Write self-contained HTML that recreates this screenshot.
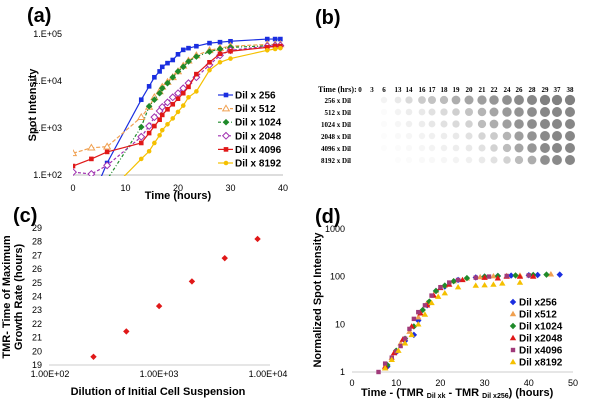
<!DOCTYPE html>
<html><head><meta charset="utf-8"><style>
body{margin:0;background:#fff}
svg{font-family:"Liberation Sans",sans-serif;display:block}
</style></head><body>
<svg id="fig" width="600" height="400" viewBox="0 0 600 400" xmlns="http://www.w3.org/2000/svg">
<text x="27" y="22" font-size="20" font-weight="bold">(a)</text>
<text x="315" y="24" font-size="20" font-weight="bold">(b)</text>
<text x="13" y="222" font-size="20" font-weight="bold">(c)</text>
<text x="315" y="223" font-size="20" font-weight="bold">(d)</text>
<defs><clipPath id="clipA"><rect x="73" y="30" width="215" height="146"/></clipPath></defs>
<g id="pa"></g>
<g id="pb"></g>
<g id="pc"></g>
<g id="pd"></g>
</svg>
<script>
// ---------- Panel (a) data ----------
const aTimes = [0,3.5,6.5,13,14.5,15.5,16.5,17,18,19,20,21,22,23.5,26,28,30,37,38.5,39.5];
const aS256  = [20,30,180,4000,7700,12000,16000,20000,24000,28000,37000,46000,50000,55000,64000,67000,70000,78000,78000,78000];
const aS512  = [290,380,400,1700,2800,4500,6000,7500,9500,12000,16000,21000,27000,35000,45000,50000,55000,60000,60000,60000];
const aS1024 = [40,60,80,1050,2900,4000,5500,7000,9000,12000,16000,20000,26000,33000,42000,48000,52000,56000,58000,58000];
const aS2048 = [115,105,160,650,1100,1700,2300,2800,3500,4500,5500,7000,9000,12000,22000,35000,45000,55000,56000,57000];
const aS4096 = [155,220,310,480,780,1100,1500,1900,2500,3200,4200,5500,7500,14000,25000,38000,43000,52000,55000,55000];
const aS8192 = [10,20,40,220,320,480,700,900,1200,1600,2200,3000,4500,6000,17000,25000,30000,45000,48000,50000];
const aNames = ["Dil x 256","Dil x 512","Dil x 1024","Dil x 2048","Dil x 4096","Dil x 8192"];
const aXTicks = [0,10,20,30,40];
const aYTicks = ["1.E+02","1.E+03","1.E+04","1.E+05"];
// ---------- Panel (b) data ----------
const bTimes = ["0","3","6","13","14","16","17","18","19","20","21","22","24","26","28","29","37","38"];
const bRows = ["256","512","1024","2048","4096","8192"];
const bI256  = [0,0,0.08,0.15,0.25,0.35,0.4,0.45,0.55,0.6,0.65,0.7,0.75,0.78,0.8,0.85,0.85,0.85];
const bI512  = [0,0,0.03,0.08,0.12,0.15,0.2,0.25,0.32,0.4,0.5,0.6,0.68,0.72,0.76,0.8,0.8,0.8];
const bI1024 = [0,0,0.03,0.06,0.1,0.12,0.16,0.2,0.25,0.3,0.45,0.55,0.65,0.72,0.76,0.8,0.8,0.8];
const bI2048 = [0,0,0.02,0.04,0.06,0.08,0.1,0.12,0.15,0.2,0.28,0.35,0.5,0.65,0.72,0.78,0.8,0.8];
const bI4096 = [0,0,0.02,0.03,0.04,0.06,0.08,0.1,0.12,0.15,0.2,0.3,0.45,0.6,0.7,0.78,0.8,0.8];
const bI8192 = [0,0,0,0.02,0.03,0.04,0.05,0.06,0.08,0.1,0.14,0.2,0.3,0.45,0.55,0.75,0.78,0.8];
// ---------- Panel (c) data ----------
const cDil = [256,512,1024,2048,4096,8192];
const cTMR = [19.6,21.45,23.3,25.1,26.8,28.2];
const cYTicks = [19,20,21,22,23,24,25,26,27,28,29];
const cXTicks = ["1.00E+02","1.00E+03","1.00E+04"];
// ---------- Panel (d) data ----------
const dX256 = [8,10,12,14,15,17,19,21,24,28,30,33,36,40,42,47];
const dY256 = [1.3,2.6,4.5,6,12,25,50,62,85,96,100,103,105,107,108,110];
const dX512 = [7.5,9,11,13,15,17,19,21,23,26,29,32,35,38,41,45];
const dY512 = [1.2,2,4,7,14,28,50,65,80,92,98,102,104,106,108,112];
const dX1024 = [8,10,12,14,16,17.5,19,21,23,26,30,33,37,41,44];
const dY1024 = [1.4,2.8,5,9,20,30,50,65,80,93,100,103,106,108,110];
const dX2048 = [7.5,9.5,11.5,13.5,15.5,17,18.5,20,22,25,30,33,35,38,41];
const dY2048 = [1.3,2.5,4.8,9,17,25,40,58,68,85,95,92,100,100,100];
const dX4096 = [6,7.5,9,10,11,12,13,14,15,16.5,18,20,22,24,28,31,35,40];
const dY4096 = [1,1.5,2,2.7,3.5,5,8,13,18,25,40,60,75,85,95,100,103,106];
const dX8192 = [7.5,9,10.5,12,13.5,15,16.5,18,19.5,21,24,28,30,32,34,38];
const dY8192 = [1.2,1.8,2.8,4,6,10,16,28,38,45,60,65,66,68,72,75];
const dYTicks = [1,10,100,1000];
const dXTicks = [0,10,20,30,40,50];

const NS="http://www.w3.org/2000/svg";
function mk(tag,attrs,parent,txt){const e=document.createElementNS(NS,tag);for(const k in attrs)e.setAttribute(k,attrs[k]);if(txt!==undefined)e.textContent=txt;parent.appendChild(e);return e;}
function marker(g,shape,x,y,col,s){
  let e;
  if(shape==="sq") e=mk("rect",{x:x-s,y:y-s,width:2*s,height:2*s,fill:col},g);
  else if(shape==="tri") e=mk("polygon",{points:`${x},${y-s-1} ${x-s-1},${y+s} ${x+s+1},${y+s}`,fill:col},g);
  else if(shape==="otri") e=mk("polygon",{points:`${x},${y-s-1} ${x-s-1},${y+s} ${x+s+1},${y+s}`,fill:"#fff",stroke:col,"stroke-width":1},g);
  else if(shape==="dia") e=mk("polygon",{points:`${x},${y-s-1} ${x+s+1},${y} ${x},${y+s+1} ${x-s-1},${y}`,fill:col},g);
  else if(shape==="odia") e=mk("polygon",{points:`${x},${y-s-1} ${x+s+1},${y} ${x},${y+s+1} ${x-s-1},${y}`,fill:"#fff",stroke:col,"stroke-width":1},g);
  else e=mk("circle",{cx:x,cy:y,r:s,fill:col},g);
  return e;
}

// ===== Panel (a) =====
(function(){
const g=document.getElementById("pa");
const X=t=>73+t*(210/40), Y=v=>175-(Math.log10(v)-2)*47;
const ax=mk("line",{x1:73,y1:175,x2:283,y2:175,stroke:"#bbb"},g);


aYTicks.forEach((l,i)=>{const t=mk("text",{x:62,y:175-i*47+3,"font-size":9,"text-anchor":"end"},g,l);

});
aXTicks.forEach(v=>{const t=mk("text",{x:X(v),y:191,"font-size":9,"text-anchor":"middle"},g,v);

});
const xt=mk("text",{x:178,y:199,"font-size":11,"font-weight":"bold","text-anchor":"middle"},g,"Time (hours)");


const yt=mk("text",{x:0,y:0,"font-size":11,"font-weight":"bold","text-anchor":"middle",transform:"translate(36,105) rotate(-90)"},g,"Spot Intensity");


const series=[aS256,aS512,aS1024,aS2048,aS4096,aS8192];
const cols=["#1a2ee0","#f0a050","#1f8a2a","#a030b0","#e01818","#f5c000"];
const dash=["","4,2","3,2,1,2","3,2","",""];
const shp=["sq","otri","dia","odia","sq","dot"];
const clip=mk("g",{"clip-path":"url(#clipA)"},g);
series.forEach((s,k)=>{
  const d=s.map((v,i)=>(i?"L":"M")+X(aTimes[i])+","+Y(v)).join("");
  const p=mk("path",{d:d,fill:"none",stroke:cols[k],"stroke-width":1.2,"stroke-dasharray":dash[k]},clip);
  
  
  s.forEach((v,i)=>{if(v<100)return;const m=marker(clip,shp[k],X(aTimes[i]),Y(v),cols[k],2.3);
  
  });
  const ly=95+k*13.6;
  const ll=mk("line",{x1:218,y1:ly,x2:233,y2:ly,stroke:cols[k],"stroke-width":1.2,"stroke-dasharray":dash[k]},g);
  
  
  const lm=marker(g,shp[k],226,ly,cols[k],2.3);
  
  
  const lt=mk("text",{x:235,y:ly+3.5,"font-size":10,"font-weight":"bold"},g,aNames[k]);
  
  
});
})();

// ===== Panel (b) =====
(function(){
const g=document.getElementById("pb");
const colX=[360,372,384,398,409,422,432,444,456,469,482,494,507,519,532,545,557,570];
const h=mk("text",{x:318,y:92,"font-size":8,"font-weight":"bold","font-family":"Liberation Serif, serif"},g,"Time (hrs):");


bTimes.forEach((t,i)=>{const e=mk("text",{x:colX[i],y:92,"font-size":7,"font-weight":"bold","text-anchor":"middle","font-family":"Liberation Serif, serif"},g,t);

});
const rows=[bI256,bI512,bI1024,bI2048,bI4096,bI8192];
rows.forEach((r,j)=>{
  const y=100+j*12;
  const l=mk("text",{x:351,y:y+3,"font-size":7,"font-weight":"bold","text-anchor":"end","font-family":"Liberation Serif, serif"},g,bRows[j]+" x Dil");
  
  
  r.forEach((v,i)=>{if(v<=0)return;const c=Math.round(255-v*150);
    const d=mk("circle",{cx:colX[i],cy:y,r:3+v*2.5,fill:`rgb(${c},${c},${c})`},g);
    
    });
});
})();

// ===== Panel (c) =====
(function(){
const g=document.getElementById("pc");
const X=d=>49+(Math.log10(d)-2)*109, Y=v=>365-(v-19)*13.7;
const a1=mk("line",{x1:49,y1:365,x2:270,y2:365,stroke:"#ccc"},g);


cYTicks.forEach(v=>{const t=mk("text",{x:42,y:Y(v)+3,"font-size":9,"text-anchor":"end"},g,v);

});
cXTicks.forEach((l,i)=>{const t=mk("text",{x:50+i*109,y:377,"font-size":9,"text-anchor":"middle"},g,l);

});
const xt=mk("text",{x:158,y:395,"font-size":11,"font-weight":"bold","text-anchor":"middle"},g,"Dilution of Initial Cell Suspension");


const y1=mk("text",{x:0,y:0,"font-size":11,"font-weight":"bold","text-anchor":"middle",transform:"translate(10,297) rotate(-90)"},g,"TMR- Time of Maximum");


const y2=mk("text",{x:0,y:0,"font-size":11,"font-weight":"bold","text-anchor":"middle",transform:"translate(22,297) rotate(-90)"},g,"Growth Rate (hours)");


cDil.forEach((d,i)=>{const m=marker(g,"dia",X(d),Y(cTMR[i]),"#e01818",2.2);

});
})();

// ===== Panel (d) =====
(function(){
const g=document.getElementById("pd");
const X=t=>352+t*4.42, Y=v=>372-Math.log10(v)*47.7;
const a1=mk("line",{x1:352,y1:372,x2:573,y2:372,stroke:"#ccc"},g);


dYTicks.forEach(v=>{const t=mk("text",{x:345,y:Y(v)+3,"font-size":9,"text-anchor":"end"},g,v);

});
dXTicks.forEach(v=>{const t=mk("text",{x:X(v),y:386,"font-size":9,"text-anchor":"middle"},g,v);

});
const xt=mk("text",{x:361,y:396,"font-size":11,"font-weight":"bold"},g);


xt.innerHTML='Time  - (TMR <tspan font-size="7" dy="2">Dil xk</tspan><tspan dy="-2"> - TMR </tspan><tspan font-size="7" dy="2">Dil x256</tspan><tspan dy="-2">)     (hours)</tspan>';
const yt=mk("text",{x:0,y:0,"font-size":11,"font-weight":"bold","text-anchor":"middle",transform:"translate(321,300) rotate(-90)"},g,"Normalized Spot Intensity");


const xs=[dX256,dX512,dX1024,dX2048,dX4096,dX8192], ys=[dY256,dY512,dY1024,dY2048,dY4096,dY8192];
const cols=["#1a2ee0","#f0a050","#1f8a2a","#e01818","#a03a7a","#f5c000"];
const shp=["dia","tri","dia","tri","sq","tri"];
const names=["Dil x256","Dil x512","Dil x1024","Dil x2048","Dil x4096","Dil x8192"];
xs.forEach((xa,k)=>{
  xa.forEach((x,i)=>{const m=marker(g,shp[k],X(x),Y(ys[k][i]),cols[k],2.2);
  
  });
  const ly=302+k*12;
  const lm=marker(g,shp[k],513,ly,cols[k],2.2);
  
  
  const lt=mk("text",{x:519,y:ly+3.5,"font-size":10,"font-weight":"bold"},g,names[k]);
  
  
});
})();
</script>
</body></html>
